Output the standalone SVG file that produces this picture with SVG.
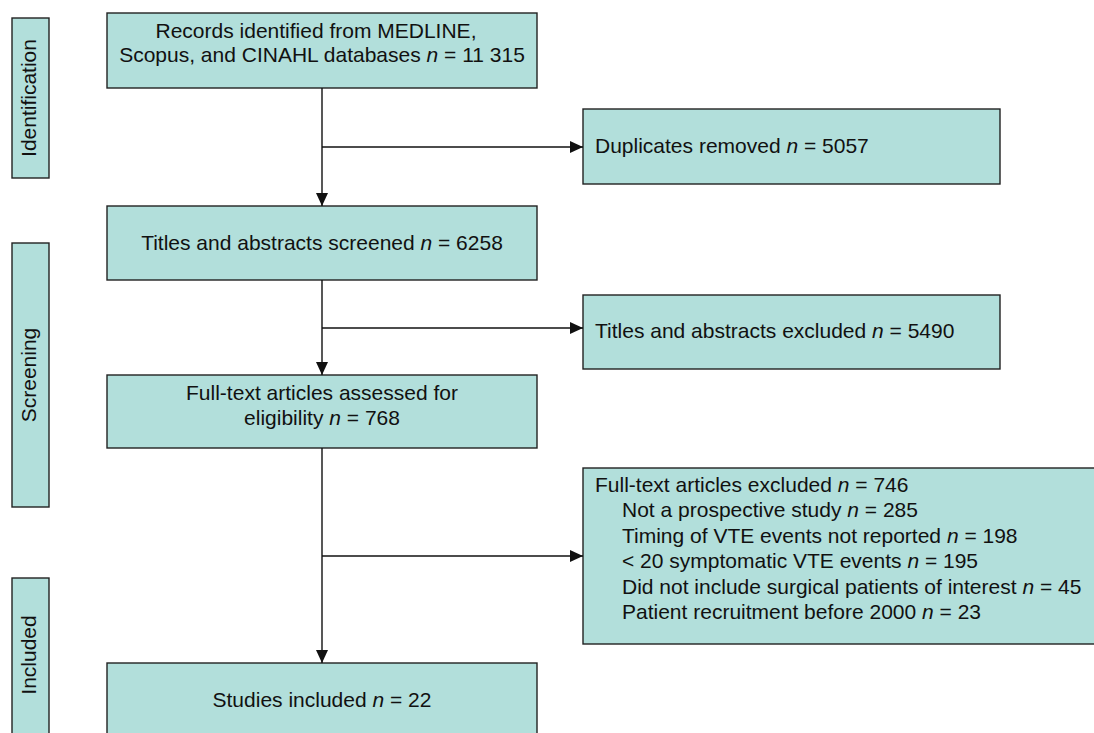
<svg xmlns="http://www.w3.org/2000/svg" width="1094" height="733" viewBox="0 0 1094 733">
<style>
.box{fill:#b2dfdb;stroke:#222;stroke-width:1.4}
text{font-family:"Liberation Sans",Arial,sans-serif;font-size:21px;fill:#111}
.c{text-anchor:middle}
.e{stroke:#111;stroke-width:1.4;fill:none}
</style>
<defs>
<marker id="ah" markerWidth="14" markerHeight="12" refX="13" refY="6" orient="auto" markerUnits="userSpaceOnUse">
<path d="M0,0 L13,6 L0,12 Z" fill="#111"/>
</marker>
</defs>
<rect width="1094" height="733" fill="#fff"/>
<g id="phase-identification">
<rect class="box" x="12" y="18" width="37" height="160"/>
<text class="c" transform="translate(36,98) rotate(-90)">Identification</text>
</g>
<g id="phase-screening">
<rect class="box" x="12" y="243" width="37" height="264"/>
<text class="c" transform="translate(36,375) rotate(-90)">Screening</text>
</g>
<g id="phase-included">
<rect class="box" x="12" y="578" width="37" height="170"/>
<text class="c" transform="translate(36,655) rotate(-90)">Included</text>
</g>
<g id="records">
<rect class="box" x="107" y="13" width="430" height="75"/>
<text class="c" x="316" y="38" font-size="21.6">Records identified from MEDLINE,</text>
<text class="c" x="322" y="62">Scopus, and CINAHL databases <tspan font-style="italic">n</tspan> = 11 315</text>
</g>
<g id="duplicates">
<rect class="box" x="583" y="109" width="417" height="75"/>
<text x="595" y="153">Duplicates removed <tspan font-style="italic">n</tspan> = 5057</text>
</g>
<g id="screened">
<rect class="box" x="107" y="206" width="430" height="74"/>
<text class="c" x="322" y="250">Titles and abstracts screened <tspan font-style="italic">n</tspan> = 6258</text>
</g>
<g id="tiab-excluded">
<rect class="box" x="583" y="295" width="417" height="74"/>
<text x="595" y="338">Titles and abstracts excluded <tspan font-style="italic">n</tspan> = 5490</text>
</g>
<g id="fulltext">
<rect class="box" x="107" y="375" width="430" height="73"/>
<text class="c" x="322" y="400">Full-text articles assessed for</text>
<text class="c" x="322" y="425">eligibility <tspan font-style="italic">n</tspan> = 768</text>
</g>
<g id="ft-excluded">
<rect class="box" x="583" y="468" width="530" height="176"/>
<text x="595" y="492">Full-text articles excluded <tspan font-style="italic">n</tspan> = 746</text>
<text x="622" y="517">Not a prospective study <tspan font-style="italic">n</tspan> = 285</text>
<text x="622" y="543">Timing of VTE events not reported <tspan font-style="italic">n</tspan> = 198</text>
<text x="622" y="568">&lt; 20 symptomatic VTE events <tspan font-style="italic">n</tspan> = 195</text>
<text x="622" y="594">Did not include surgical patients of interest <tspan font-style="italic">n</tspan> = 45</text>
<text x="622" y="619">Patient recruitment before 2000 <tspan font-style="italic">n</tspan> = 23</text>
</g>
<g id="included">
<rect class="box" x="107" y="663" width="430" height="85"/>
<text class="c" x="322" y="707">Studies included <tspan font-style="italic">n</tspan> = 22</text>
</g>
<g id="connectors">
<line class="e" x1="322" y1="88" x2="322" y2="206" marker-end="url(#ah)"/>
<line class="e" x1="322" y1="147" x2="583" y2="147" marker-end="url(#ah)"/>
<line class="e" x1="322" y1="280" x2="322" y2="375" marker-end="url(#ah)"/>
<line class="e" x1="322" y1="328" x2="583" y2="328" marker-end="url(#ah)"/>
<line class="e" x1="322" y1="448" x2="322" y2="663" marker-end="url(#ah)"/>
<line class="e" x1="322" y1="556" x2="583" y2="556" marker-end="url(#ah)"/>
</g>
</svg>
